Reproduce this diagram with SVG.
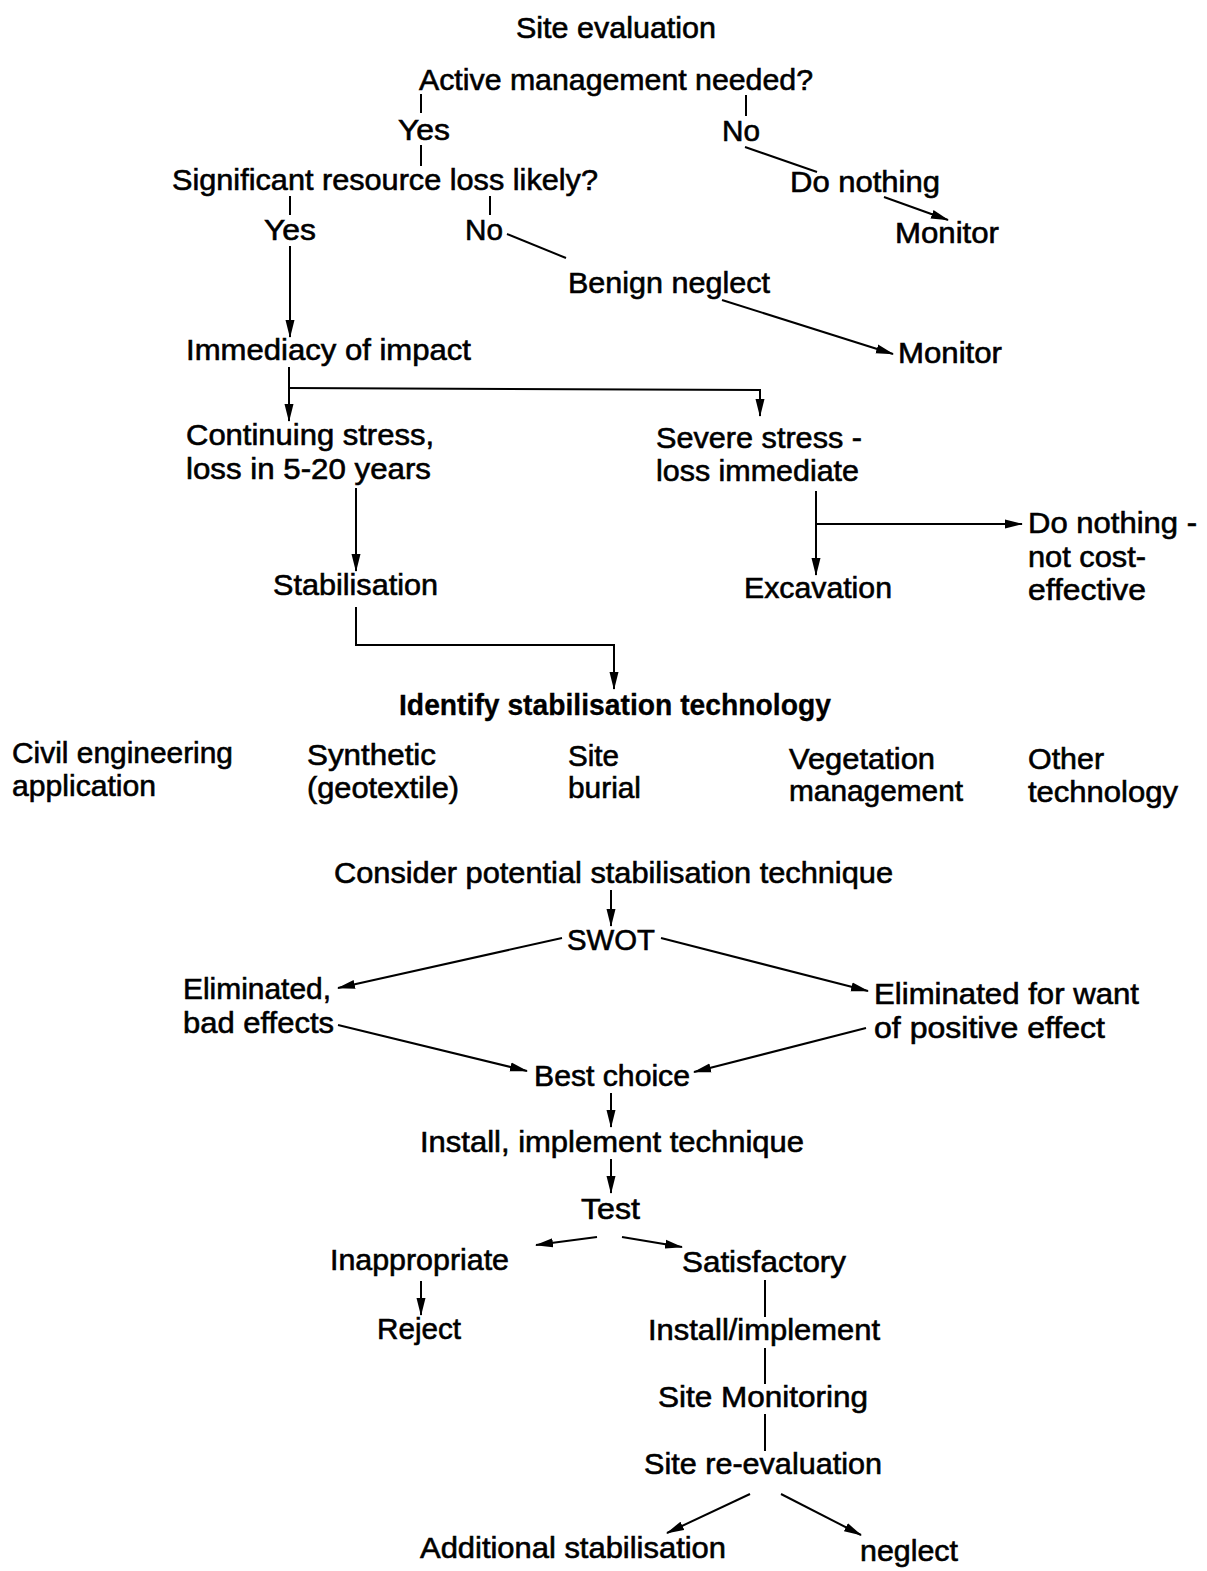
<svg xmlns="http://www.w3.org/2000/svg" width="1207" height="1571" viewBox="0 0 1207 1571">
<style>
text{font-family:"Liberation Sans",Arial,sans-serif;font-size:30px;fill:#000;stroke:#000;stroke-width:0.6}
.b{font-weight:bold;stroke-width:0.3}
.c line,.c polyline{stroke:#000;stroke-width:2;fill:none}
.a{marker-end:url(#ah)}
</style>
<defs>
<marker id="ah" markerUnits="userSpaceOnUse" markerWidth="18" markerHeight="10" refX="17" refY="5" orient="auto"><path d="M0,0.5 L18,5 L0,9.5 z" fill="#000"/></marker>
</defs>
<rect width="1207" height="1571" fill="#fff"/>
<g class="c" id="connectors">
<line x1="421" y1="94" x2="421" y2="113"/>
<line x1="421" y1="145" x2="421" y2="166"/>
<line x1="746" y1="95" x2="746" y2="116"/>
<line x1="745" y1="147" x2="817" y2="172"/>
<line x1="290" y1="196" x2="290" y2="215"/>
<line x1="490" y1="196" x2="490" y2="215"/>
<line x1="507" y1="234" x2="566" y2="258"/>
<line class="a" x1="884" y1="197" x2="948" y2="220"/>
<line class="a" x1="722" y1="300" x2="893" y2="354"/>
<line class="a" x1="290" y1="246" x2="290" y2="337"/>
<line class="a" x1="289" y1="367" x2="289" y2="421"/>
<polyline class="a" points="289,388 760,390 760,416"/>
<line class="a" x1="356" y1="488" x2="356" y2="571"/>
<polyline class="a" points="356,607 356,645 614,645 614,689"/>
<line class="a" x1="816" y1="491" x2="816" y2="575"/>
<line class="a" x1="816" y1="524" x2="1022" y2="524"/>
<line class="a" x1="611" y1="890" x2="611" y2="926"/>
<line class="a" x1="562" y1="938" x2="338" y2="988"/>
<line class="a" x1="661" y1="938" x2="868" y2="991"/>
<line class="a" x1="338" y1="1025" x2="527" y2="1071"/>
<line class="a" x1="866" y1="1028" x2="694" y2="1072"/>
<line class="a" x1="611" y1="1093" x2="611" y2="1127"/>
<line class="a" x1="611" y1="1159" x2="611" y2="1193"/>
<line class="a" x1="597" y1="1237" x2="536" y2="1245"/>
<line class="a" x1="622" y1="1237" x2="682" y2="1247"/>
<line class="a" x1="421" y1="1281" x2="421" y2="1315"/>
<line x1="765" y1="1280" x2="765" y2="1317"/>
<line x1="765" y1="1348" x2="765" y2="1384"/>
<line x1="765" y1="1414" x2="765" y2="1451"/>
<line class="a" x1="750" y1="1494" x2="667" y2="1533"/>
<line class="a" x1="781" y1="1494" x2="861" y2="1535"/>
</g>
<g id="n1"><text x="516" y="38" textLength="200" lengthAdjust="spacingAndGlyphs">Site evaluation</text></g>
<g id="n2"><text x="419" y="90" textLength="394" lengthAdjust="spacingAndGlyphs">Active management needed?</text></g>
<g id="n3"><text x="398" y="140" textLength="52" lengthAdjust="spacingAndGlyphs">Yes</text></g>
<g id="n4"><text x="722" y="141" textLength="38" lengthAdjust="spacingAndGlyphs">No</text></g>
<g id="n5"><text x="172" y="190" textLength="426" lengthAdjust="spacingAndGlyphs">Significant resource loss likely?</text></g>
<g id="n6"><text x="790" y="192" textLength="150" lengthAdjust="spacingAndGlyphs">Do nothing</text></g>
<g id="n7"><text x="264" y="240" textLength="52" lengthAdjust="spacingAndGlyphs">Yes</text></g>
<g id="n8"><text x="465" y="240" textLength="38" lengthAdjust="spacingAndGlyphs">No</text></g>
<g id="n9"><text x="895" y="243" textLength="104" lengthAdjust="spacingAndGlyphs">Monitor</text></g>
<g id="n10"><text x="568" y="293" textLength="202" lengthAdjust="spacingAndGlyphs">Benign neglect</text></g>
<g id="n11"><text x="186" y="360" textLength="285" lengthAdjust="spacingAndGlyphs">Immediacy of impact</text></g>
<g id="n12"><text x="898" y="363" textLength="104" lengthAdjust="spacingAndGlyphs">Monitor</text></g>
<g id="n13"><text x="186" y="445" textLength="248" lengthAdjust="spacingAndGlyphs">Continuing stress,</text><text x="186" y="479" textLength="245" lengthAdjust="spacingAndGlyphs">loss in 5-20 years</text></g>
<g id="n14"><text x="656" y="448" textLength="206" lengthAdjust="spacingAndGlyphs">Severe stress -</text><text x="656" y="481" textLength="203" lengthAdjust="spacingAndGlyphs">loss immediate</text></g>
<g id="n15"><text x="1028" y="533" textLength="169" lengthAdjust="spacingAndGlyphs">Do nothing -</text><text x="1028" y="567" textLength="118" lengthAdjust="spacingAndGlyphs">not cost-</text><text x="1028" y="600" textLength="118" lengthAdjust="spacingAndGlyphs">effective</text></g>
<g id="n16"><text x="273" y="595" textLength="165" lengthAdjust="spacingAndGlyphs">Stabilisation</text></g>
<g id="n17"><text x="744" y="598" textLength="148" lengthAdjust="spacingAndGlyphs">Excavation</text></g>
<g id="n18"><text class="b" x="399" y="715" textLength="432" lengthAdjust="spacingAndGlyphs">Identify stabilisation technology</text></g>
<g id="n19"><text x="12" y="763" textLength="221" lengthAdjust="spacingAndGlyphs">Civil engineering</text><text x="12" y="796" textLength="144" lengthAdjust="spacingAndGlyphs">application</text></g>
<g id="n20"><text x="307" y="765" textLength="129" lengthAdjust="spacingAndGlyphs">Synthetic</text><text x="307" y="798" textLength="152" lengthAdjust="spacingAndGlyphs">(geotextile)</text></g>
<g id="n21"><text x="568" y="766" textLength="51" lengthAdjust="spacingAndGlyphs">Site</text><text x="568" y="798" textLength="73" lengthAdjust="spacingAndGlyphs">burial</text></g>
<g id="n22"><text x="789" y="769" textLength="146" lengthAdjust="spacingAndGlyphs">Vegetation</text><text x="789" y="801" textLength="174" lengthAdjust="spacingAndGlyphs">management</text></g>
<g id="n23"><text x="1028" y="769" textLength="76" lengthAdjust="spacingAndGlyphs">Other</text><text x="1028" y="802" textLength="150" lengthAdjust="spacingAndGlyphs">technology</text></g>
<g id="n24"><text x="334" y="883" textLength="559" lengthAdjust="spacingAndGlyphs">Consider potential stabilisation technique</text></g>
<g id="n25"><text x="567" y="950" textLength="88" lengthAdjust="spacingAndGlyphs">SWOT</text></g>
<g id="n26"><text x="183" y="999" textLength="148" lengthAdjust="spacingAndGlyphs">Eliminated,</text><text x="183" y="1033" textLength="151" lengthAdjust="spacingAndGlyphs">bad effects</text></g>
<g id="n27"><text x="874" y="1004" textLength="265" lengthAdjust="spacingAndGlyphs">Eliminated for want</text><text x="874" y="1038" textLength="231" lengthAdjust="spacingAndGlyphs">of positive effect</text></g>
<g id="n28"><text x="534" y="1086" textLength="156" lengthAdjust="spacingAndGlyphs">Best choice</text></g>
<g id="n29"><text x="420" y="1152" textLength="384" lengthAdjust="spacingAndGlyphs">Install, implement technique</text></g>
<g id="n30"><text x="581" y="1219" textLength="59" lengthAdjust="spacingAndGlyphs">Test</text></g>
<g id="n31"><text x="330" y="1270" textLength="179" lengthAdjust="spacingAndGlyphs">Inappropriate</text></g>
<g id="n32"><text x="682" y="1272" textLength="164" lengthAdjust="spacingAndGlyphs">Satisfactory</text></g>
<g id="n33"><text x="377" y="1339" textLength="84" lengthAdjust="spacingAndGlyphs">Reject</text></g>
<g id="n34"><text x="648" y="1340" textLength="232" lengthAdjust="spacingAndGlyphs">Install/implement</text></g>
<g id="n35"><text x="658" y="1407" textLength="210" lengthAdjust="spacingAndGlyphs">Site Monitoring</text></g>
<g id="n36"><text x="644" y="1474" textLength="238" lengthAdjust="spacingAndGlyphs">Site re-evaluation</text></g>
<g id="n37"><text x="420" y="1558" textLength="306" lengthAdjust="spacingAndGlyphs">Additional stabilisation</text></g>
<g id="n38"><text x="860" y="1561" textLength="98" lengthAdjust="spacingAndGlyphs">neglect</text></g>
</svg>
